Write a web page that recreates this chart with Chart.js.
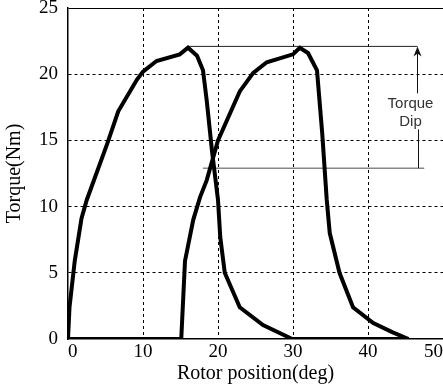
<!DOCTYPE html>
<html>
<head>
<meta charset="utf-8">
<title>Torque vs rotor position</title>
<script src="https://cdn.jsdelivr.net/npm/chart.js@4.4.1/dist/chart.umd.min.js"></script>
<style>
  html, body { margin: 0; padding: 0; background: #fff; }
  #wrap { position: relative; width: 443px; height: 387px; }
</style>
</head>
<body>
<div id="wrap"><canvas id="torque"></canvas></div>
<script>
// phase A torque (deg, Nm)
var phaseA_x = [0, 0.2, 0.9, 1.8, 2.5, 5.2, 6.7, 9.2, 10, 11.8, 14.9, 16, 17.2, 18, 18.5, 19.2, 20, 20.3, 20.9, 22.9, 26, 29.9, 45];
var phaseA_y = [0, 2.4, 5.9, 9.1, 10.5, 14.7, 17.2, 19.6, 20.2, 21.0, 21.5, 22.0, 21.4, 20.3, 18, 14.2, 10.5, 7.7, 5.0, 2.4, 1.05, 0, 0];

// phase B torque (deg, Nm)
var phaseB_x = [0, 15.1, 15.6, 16.7, 17.6, 18.5, 20, 22.9, 24.7, 26.5, 30, 30.9, 32, 33.2, 33.9, 34.5, 34.9, 36.2, 38, 40.7, 43.3, 45.4];
var phaseB_y = [0, 0, 5.9, 9.0, 10.7, 12, 15, 18.7, 20.1, 20.9, 21.5, 22.0, 21.6, 20.3, 15.5, 10.5, 8.0, 5.0, 2.4, 1.2, 0.5, 0];

// torque dip markers
var dipTop = 22.1;
var dipBottom = 12.9;
var dipTopX = [16, 46.6];
var dipBottomX = [18, 47.5];
var dipArrowX = 46.6;
var dipLabel = ['Torque', 'Dip'];

var xTicks = [0, 10, 20, 30, 40, 50];
var yTicks = [0, 5, 10, 15, 20, 25];

function pts(xs, ys) {
  return xs.map(function (x, i) { return { x: x, y: ys[i] }; });
}

// arrow + label for torque dip
var dipPlugin = {
  id: 'dip',
  afterDatasetsDraw: function (chart) {
    var ctx = chart.ctx;
    var xs = chart.scales.x, ys = chart.scales.y;
    var ax = xs.getPixelForValue(dipArrowX);
    var yT = ys.getPixelForValue(dipTop);
    var yB = ys.getPixelForValue(dipBottom);
    ctx.save();
    ctx.strokeStyle = '#111';
    ctx.fillStyle = '#111';
    ctx.lineWidth = 1;
    ctx.beginPath();
    ctx.moveTo(ax, yT + 2);
    ctx.lineTo(ax, yT + 47);
    ctx.moveTo(ax + 1, yT + 83);
    ctx.lineTo(ax + 1, yB);
    ctx.stroke();
    ctx.beginPath();
    ctx.moveTo(ax, yT);
    ctx.lineTo(ax - 4, yT + 10);
    ctx.lineTo(ax, yT + 7);
    ctx.lineTo(ax + 4, yT + 10);
    ctx.closePath();
    ctx.fill();
    ctx.fillStyle = '#333';
    ctx.font = '15px "Liberation Sans", Arial, sans-serif';
    ctx.textAlign = 'center';
    ctx.textBaseline = 'middle';
    ctx.fillText(dipLabel[0], ax - 7, yT + 57);
    ctx.fillText(dipLabel[1], ax - 7, yT + 75);
    ctx.restore();
  }
};

var serif = 'Liberation Serif, "Times New Roman", serif';

new Chart('torque', {
  type: 'line',
  data: {
    datasets: [
      { data: pts(phaseA_x, phaseA_y), borderColor: '#000', borderWidth: 4, pointRadius: 0, tension: 0 },
      { data: pts(phaseB_x, phaseB_y), borderColor: '#000', borderWidth: 4, pointRadius: 0, tension: 0 },
      { data: pts(dipTopX, [dipTop, dipTop]), borderColor: '#222', borderWidth: 1, pointRadius: 0 },
      { data: pts(dipBottomX, [dipBottom, dipBottom]), borderColor: '#888', borderWidth: 1.5, pointRadius: 0 }
    ]
  },
  options: {
    responsive: true,
    maintainAspectRatio: false,
    animation: false,
    layout: { padding: { top: 8, right: 0, left: 0, bottom: 0 } },
    plugins: { legend: { display: false }, tooltip: { enabled: false } },
    scales: {
      x: {
        type: 'linear', min: 0, max: 50,
        afterBuildTicks: function (s) { s.ticks = xTicks.map(function (v) { return { value: v }; }); },
        afterFit: function (s) { s.height = 48; s.paddingLeft = 0; s.paddingRight = 0; },
        ticks: { color: '#000', font: { family: serif, size: 19 }, padding: 2, maxRotation: 0, align: 'inner' },
        grid: {
          drawTicks: false,
          color: function (c) { return c.tick && (c.tick.value === 0) ? 'rgba(0,0,0,0)' : '#000'; },
          lineWidth: 1
        },
        border: { color: '#000', width: 1.5, dash: [3, 3] },
        title: { display: true, text: 'Rotor position(deg)', color: '#000', font: { family: serif, size: 20 }, padding: { top: 0, bottom: 1 } }
      },
      y: {
        type: 'linear', min: 0, max: 25,
        afterBuildTicks: function (s) { s.ticks = yTicks.map(function (v) { return { value: v }; }); },
        afterFit: function (s) { s.width = 68; s.paddingTop = 0; s.paddingBottom = 0; },
        ticks: { color: '#000', font: { family: serif, size: 19 }, padding: 10 },
        grid: {
          drawTicks: false,
          color: function (c) { return c.tick && c.tick.value === 0 ? 'rgba(0,0,0,0)' : '#000'; },
          lineWidth: 1
        },
        border: {
          color: '#000', width: 1.5,
          dash: function (c) { return c.tick && c.tick.value === 25 ? [] : [3, 3]; }
        },
        title: { display: true, text: 'Torque(Nm)', color: '#000', font: { family: serif, size: 20 }, padding: { top: 3, bottom: 0 } }
      }
    }
  },
  plugins: [dipPlugin]
});
</script>
</body>
</html>
